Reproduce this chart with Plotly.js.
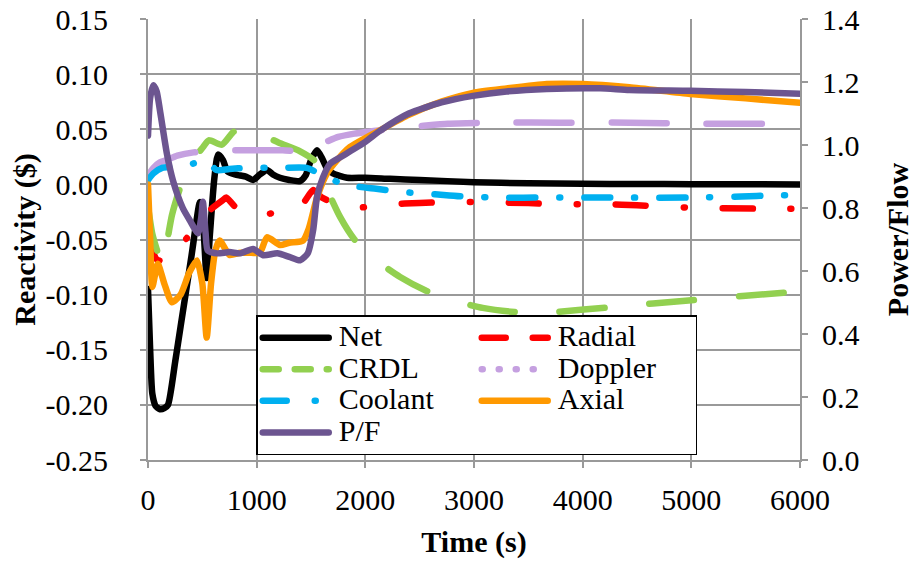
<!DOCTYPE html>
<html><head><meta charset="utf-8">
<script src="https://cdn.plot.ly/plotly-3.0.1.min.js"></script>
<style>
html,body{margin:0;padding:0;background:#fff;font-family:'Liberation Serif',serif;}
#chart{width:914px;height:563px;}
.scatterlayer .js-line, .legend .js-line {stroke-linecap: round;}
.legend .legendlines path { d: path("M5,0h66"); }
.legend .legendtext { font-size: 30px !important; }
.xtick text, .ytick text, .y2tick text, .legendtext { font-family: 'Liberation Serif', serif !important; }
</style></head>
<body><div id="chart"></div>
<script>
// ---------- data (time in s, reactivity in $, power/flow ratio) ----------
const netTime = [0,20,40,70,110,150,184,250,300,400,478,510,540,570,610,645,690,730,800,850,900,966,1030,1095,1150,1214,1300,1398,1450,1500,1555,1600,1650,1702,1831,2000,2226,2500,3000,3500,4000,4500,5000,5500,6000];
const netValues = [-0.095,-0.15,-0.19,-0.201,-0.204,-0.203,-0.2,-0.161,-0.129,-0.065,-0.016,-0.04,-0.085,-0.045,0.005,0.027,0.022,0.012,0.009,0.008,0.007,0.004,0.009,0.013,0.009,0.006,0.004,0.003,0.008,0.022,0.031,0.024,0.014,0.01,0.006,0.006,0.005,0.004,0.002,0.001,0.0005,0.0003,0.0002,0.0001,0.0];

const radialTime = [0,80,184,300,450,550,680,720,800,1000,1200,1400,1445,1520,1600,1800,1950,2226,2500,2760,3030,3500,3730,4220,4500,4970,5610,6000];
const radialValues = [-0.045,-0.068,-0.07,-0.056,-0.037,-0.025,-0.015,-0.012,-0.02,-0.028,-0.025,-0.02,-0.015,-0.005,-0.012,-0.02,-0.021,-0.018,-0.017,-0.016,-0.016,-0.017,-0.018,-0.018,-0.019,-0.021,-0.022,-0.022];

const crdlTime = [0,40,100,130,170,220,300,400,500,560,680,780,870,950,1050,1200,1400,1550,1650,1770,1900,2060,2320,2550,2760,3080,3400,3700,4300,5000,5500,6000];
const crdlValues = [-0.02,-0.045,-0.065,-0.072,-0.055,-0.028,-0.002,0.02,0.033,0.04,0.036,0.047,0.053,0.049,0.045,0.038,0.03,0.02,-0.005,-0.03,-0.05,-0.066,-0.084,-0.096,-0.104,-0.112,-0.116,-0.116,-0.111,-0.105,-0.101,-0.097];

const dopplerTime = [0,50,110,170,270,420,570,660,850,1000,1240,1400,1450,1600,1750,1900,2130,2300,2520,2760,3260,3790,4430,5050,5830,6000];
const dopplerValues = [0.008,0.015,0.02,0.022,0.026,0.029,0.03,0.031,0.031,0.031,0.031,0.03,0.031,0.037,0.043,0.046,0.049,0.051,0.053,0.055,0.056,0.056,0.056,0.055,0.055,0.055];

const coolantTime = [0,50,130,250,330,420,500,560,630,750,910,1000,1100,1240,1460,1610,1750,1930,2100,2350,2640,2900,3300,3600,4130,4400,4960,5460,5750,6000];
const coolantValues = [0.004,0.01,0.015,0.016,0.017,0.019,0.022,0.02,0.013,0.014,0.015,0.015,0.015,0.015,0.015,0.008,0.002,-0.002,-0.004,-0.007,-0.009,-0.011,-0.012,-0.012,-0.012,-0.012,-0.012,-0.011,-0.01,-0.01];

const axialTime = [0,20,40,90,150,220,300,380,450,500,540,580,620,660,750,850,950,1030,1095,1215,1300,1426,1480,1555,1647,1740,1860,2000,2134,2400,2700,2990,3300,3670,4000,4430,4990,5500,6000];
const axialValues = [0.0,-0.05,-0.093,-0.072,-0.09,-0.107,-0.1,-0.08,-0.069,-0.09,-0.139,-0.09,-0.06,-0.051,-0.064,-0.062,-0.062,-0.062,-0.048,-0.055,-0.053,-0.051,-0.04,-0.012,0.01,0.022,0.034,0.042,0.049,0.063,0.075,0.083,0.087,0.091,0.091,0.088,0.082,0.078,0.074];

const pfTime = [0,20,50,80,110,175,230,320,386,460,490,505,530,550,635,750,850,966,1060,1190,1300,1400,1470,1520,1555,1610,1675,1766,1860,2000,2134,2400,2700,2990,3300,3670,4160,4430,4990,5500,6000];
const pfValues = [1.03,1.15,1.19,1.17,1.11,0.97,0.887,0.8,0.76,0.72,0.77,0.82,0.72,0.665,0.656,0.66,0.656,0.67,0.65,0.656,0.645,0.634,0.656,0.73,0.835,0.897,0.94,0.96,0.98,1.01,1.045,1.1,1.135,1.156,1.17,1.178,1.18,1.175,1.172,1.168,1.163];

const seriesNames = ['Net','Radial','CRDL','Doppler','Coolant','Axial','P/F'];
const leftTickVals = [-0.25,-0.20,-0.15,-0.10,-0.05,0.00,0.05,0.10,0.15];
const leftTickText = ['-0.25','-0.20','-0.15','-0.10','-0.05','0.00','0.05','0.10','0.15'];
const rightTickVals = [0,0.2,0.4,0.6,0.8,1.0,1.2,1.4];
const rightTickText = ['0.0','0.2','0.4','0.6','0.8','1.0','1.2','1.4'];
const xTickVals = [0,1000,2000,3000,4000,5000,6000];

// ---------- styles ----------
const W = 6.5;
const col = {net:'#000000', radial:'#FF0000', crdl:'#92D050', doppler:'#C5A0E0', coolant:'#00B0F0', axial:'#FF9900', pf:'#6C5590'};

function line(x, y, name, color, dash, rank, showleg, axis) {
  return {x:x, y:y, name:name, type:'scatter', mode:'lines', yaxis: axis || 'y',
    line:{color:color, width:W, dash:dash || 'solid', shape:'spline', smoothing:0.6},
    showlegend: showleg, legendrank: rank, hoverinfo:'skip'};
}
function legendOnly(name, color, dash, rank) {
  return {x:[null], y:[null], name:name, type:'scatter', mode:'lines',
    line:{color:color, width:W, dash:dash}, showlegend:true, legendrank:rank, hoverinfo:'skip'};
}

const traces = [
  line(netTime, netValues, seriesNames[0], col.net, 'solid', 1, true),
  line(radialTime, radialValues, seriesNames[1], col.radial, '30px,38px,1px,38px', 2, false),
  line(crdlTime, crdlValues, seriesNames[2], col.crdl, '45px,45px', 3, false),
  line(dopplerTime, dopplerValues, seriesNames[3], col.doppler, '55px,40px', 4, false),
  line(coolantTime, coolantValues, seriesNames[4], col.coolant, '26px,24px,1px,24px', 5, false),
  line(axialTime, axialValues, seriesNames[5], col.axial, 'solid', 6, true),
  legendOnly(seriesNames[1], col.radial, '24px,27px,60px,10px', 2),
  legendOnly(seriesNames[2], col.crdl, '16px,16px', 3),
  legendOnly(seriesNames[3], col.doppler, '1px,16px', 4),
  legendOnly(seriesNames[4], col.coolant, '24px,28px,1px,30px', 5),
  line(pfTime, pfValues, seriesNames[6], col.pf, 'solid', 7, true, 'y2')
];

const grid = '#999999';
const FONT = 'Liberation Serif';
function tf() { return {family:FONT, size:30, color:'#000000'}; }
function axisBase() {
  return {showline:true, linecolor:grid, linewidth:2, ticks:'outside', ticklen:6, tickwidth:2, tickcolor:grid,
    zeroline:false, automargin:false, fixedrange:true, tickfont:tf()};
}

const layout = {
  width:914, height:563,
  margin:{l:148, r:114, t:19, b:103},
  paper_bgcolor:'#ffffff', plot_bgcolor:'#ffffff',
  font:{family:FONT, size:30, color:'#000000'},
  showlegend:true,
  xaxis: Object.assign(axisBase(), {range:[0,6000], tickmode:'array', tickvals:xTickVals,
    showgrid:true, gridcolor:grid, gridwidth:2, ticklabelstandoff:6,
    title:{text:'<b>Time (s)</b>', font:tf(), standoff:16}}),
  yaxis: Object.assign(axisBase(), {range:[-0.25,0.15], tickmode:'array', tickvals:leftTickVals, ticktext:leftTickText,
    showgrid:true, gridcolor:grid, gridwidth:2, ticklabelstandoff:26,
    title:{text:'<b>Reactivity ($)</b>', font:tf(), standoff:1}}),
  yaxis2: Object.assign(axisBase(), {range:[0,1.4], overlaying:'y', side:'right', tickmode:'array',
    tickvals:rightTickVals, ticktext:rightTickText, showgrid:false, ticklabelstandoff:8,
    title:{text:'<b>Power/Flow</b>', font:tf(), standoff:30}}),
  legend:{orientation:'h', x:0.166, y:0.328, xanchor:'left', yanchor:'top',
    bgcolor:'#ffffff', bordercolor:'#000000', borderwidth:1.5,
    font:{family:FONT, size:22, color:'#000000'},
    itemwidth:71, entrywidth:133, entrywidthmode:'pixels', traceorder:'normal', itemclick:false, itemdoubleclick:false}
};

function draw() { return Plotly.newPlot('chart', traces, layout, {staticPlot:true, displayModeBar:false}); }
if (document.fonts && document.fonts.load) {
  Promise.all([document.fonts.load('30px "Liberation Serif"'), document.fonts.load('bold 30px "Liberation Serif"')])
    .then(draw, draw);
} else { draw(); }
</script></body></html>
